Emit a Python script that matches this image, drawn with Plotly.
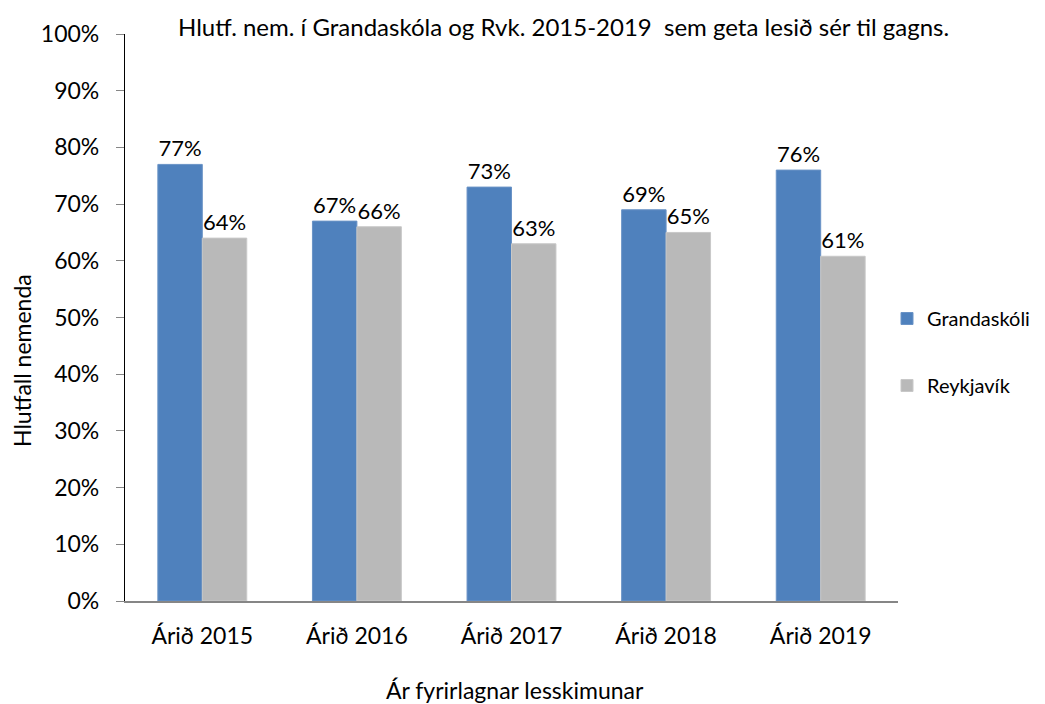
import plotly.graph_objects as go

categories = ["Árið 2015", "Árið 2016", "Árið 2017", "Árið 2018", "Árið 2019"]
grandaskoli = [77, 67, 73, 69, 76]
reykjavik = [64, 66, 63, 65, 60.8]
y_ticks = [0, 10, 20, 30, 40, 50, 60, 70, 80, 90, 100]
y_tick_labels = [f"{v}%" for v in y_ticks]

FONT = "Lato, Liberation Sans, sans-serif"
fsize = 23

L, R, T, B = 125, 147, 34, 103
PW, PH = 1045 - L - R, 704 - T - B


def px_x(x):
    return (x - L) / PW


def px_y(y):
    return (704 - B - y) / PH


fig = go.Figure()
fig.add_trace(go.Bar(
    x=categories, y=grandaskoli, name="Grandaskóli",
    marker=dict(color="#4F81BD", line=dict(color="#6A93C6", width=1)),
    texttemplate="%{y:.0f}%", textposition="outside",
    textfont=dict(family=FONT, size=22, color="#000000"),
    cliponaxis=False, legendgroup="g",
))
fig.add_trace(go.Bar(
    x=categories, y=reykjavik, name="Reykjavík",
    marker=dict(color="#B9B9B9", line=dict(color="#C8C8C8", width=1)),
    texttemplate="%{y:.0f}%", textposition="outside",
    textfont=dict(family=FONT, size=22, color="#000000"),
    cliponaxis=False, legendgroup="r",
))

fig.update_layout(
    width=1045, height=704,
    paper_bgcolor="white", plot_bgcolor="white",
    margin=dict(l=L, r=R, t=T, b=B, autoexpand=False),
    barmode="group", bargap=0.425, bargroupgap=0,
    font=dict(family=FONT, size=fsize, color="#000000"),
    showlegend=True,
    legend=dict(
        x=px_x(887), xanchor="left", y=px_y(352), yanchor="middle",
        font=dict(family=FONT, size=20, color="#000000"),
        traceorder="grouped", tracegroupgap=38,
        bgcolor="rgba(0,0,0,0)", itemwidth=30,
    ),
    xaxis=dict(
        showline=True, linecolor="#868686", linewidth=1.5,
        ticks="", showgrid=False, zeroline=False,
        tickfont=dict(family=FONT, size=fsize, color="#000000"),
        ticklabelstandoff=14,
    ),
    yaxis=dict(
        range=[0, 100], tickvals=y_ticks, ticktext=y_tick_labels,
        showline=True, linecolor="#000000", linewidth=1.2,
        ticks="outside", ticklen=8, tickcolor="#868686", tickwidth=1.2,
        showgrid=False, zeroline=False,
        tickfont=dict(family=FONT, size=fsize, color="#000000"),
        ticklabelstandoff=12,
    ),
    annotations=[
        dict(text="Hlutf. nem. í Grandaskóla og Rvk. 2015-2019  sem geta lesið sér til gagns.",
             xref="paper", yref="paper", x=px_x(563), y=px_y(27),
             xanchor="center", yanchor="middle", showarrow=False,
             font=dict(family=FONT, size=24, color="#000000")),
        dict(text="Hlutfall nemenda", xref="paper", yref="paper",
             x=px_x(22), y=px_y(361), textangle=-90,
             xanchor="center", yanchor="middle", showarrow=False,
             font=dict(family=FONT, size=fsize, color="#000000")),
        dict(text="Ár fyrirlagnar lesskimunar", xref="paper", yref="paper",
             x=px_x(515), y=px_y(690),
             xanchor="center", yanchor="middle", showarrow=False,
             font=dict(family=FONT, size=fsize, color="#000000")),
    ],
)

fig.write_html(
    "out.html",
    config={"displayModeBar": False},
    post_script="document.body.style.margin='0px';document.body.style.padding='0px';",
)
